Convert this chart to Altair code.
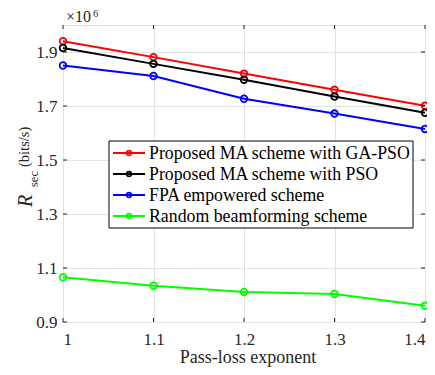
import altair as alt
import pandas as pd

# ---- data (values in units of 10^6 bits/s) ----
x_vals = [1.0, 1.1, 1.2, 1.3, 1.4]
series_names = [
    "Proposed MA scheme with GA-PSO",
    "Proposed MA scheme with PSO",
    "FPA empowered scheme",
    "Random beamforming scheme",
]
ga_pso = [1.940, 1.881, 1.820, 1.760, 1.701]
pso = [1.915, 1.856, 1.797, 1.735, 1.675]
fpa = [1.850, 1.811, 1.727, 1.672, 1.615]
random_bf = [1.066, 1.034, 1.011, 1.004, 0.960]
colors = ["#ff0000", "#000000", "#0000ff", "#00ff00"]

x_ticks = [1.0, 1.1, 1.2, 1.3, 1.4]
y_ticks = [0.9, 1.1, 1.3, 1.5, 1.7, 1.9]

W, H = 362, 297
FONT = "Liberation Serif"
TXT = "#262626"

rows = []
for name, vals in zip(series_names, [ga_pso, pso, fpa, random_bf]):
    for xv, yv in zip(x_vals, vals):
        rows.append({"x": xv, "y": yv, "series": name})
df = pd.DataFrame(rows)

xs = alt.Scale(domain=[1.0, 1.4], nice=False, zero=False)
ys = alt.Scale(domain=[0.9, 2.0], nice=False, zero=False)
color = alt.Color("series:N", scale=alt.Scale(domain=series_names, range=colors), legend=None)

base = alt.Chart(df).encode(
    x=alt.X("x:Q", scale=xs,
            axis=alt.Axis(values=x_ticks, format="~g", title=None,
                          grid=True, gridColor="#e3e3e3", ticks=False, domain=False,
                          labelFont=FONT, labelFontSize=17, labelColor=TXT, labelPadding=9)),
    y=alt.Y("y:Q", scale=ys,
            axis=alt.Axis(values=y_ticks, format=".1f", title=None,
                          grid=True, gridColor="#e3e3e3", ticks=False, domain=False,
                          labelFont=FONT, labelFontSize=17, labelColor=TXT, labelPadding=6)),
    color=color,
)
lines = base.mark_line(strokeWidth=2)
pts = base.mark_point(shape="circle", filled=False, size=44, strokeWidth=1.8, opacity=1)

# inward ticks (box style)
xt = pd.DataFrame({"t": x_ticks})
yt = pd.DataFrame({"t": y_ticks})
tick_style = dict(color=TXT, strokeWidth=1)
xt_bot = alt.Chart(xt).mark_rule(**tick_style).encode(
    x=alt.X("t:Q", scale=xs), y=alt.value(H), y2=alt.value(H - 4))
xt_top = alt.Chart(xt).mark_rule(**tick_style).encode(
    x=alt.X("t:Q", scale=xs), y=alt.value(0), y2=alt.value(4))
yt_left = alt.Chart(yt).mark_rule(**tick_style).encode(
    y=alt.Y("t:Q", scale=ys), x=alt.value(0), x2=alt.value(4))
yt_right = alt.Chart(yt).mark_rule(**tick_style).encode(
    y=alt.Y("t:Q", scale=ys), x=alt.value(W), x2=alt.value(W - 4))

one = pd.DataFrame({"a": [0]})

# legend
leg_layers = [
    alt.Chart(one).mark_rect(fill="white", stroke="#000000", strokeWidth=1).encode(
        x=alt.value(46), x2=alt.value(350), y=alt.value(116), y2=alt.value(203))
]
for i, (name, c) in enumerate(zip(series_names, colors)):
    yy = 128 + 21 * i
    leg_layers.append(alt.Chart(one).mark_rule(color=c, strokeWidth=2).encode(
        x=alt.value(50), x2=alt.value(82), y=alt.value(yy)))
    leg_layers.append(alt.Chart(one).mark_point(shape="circle", filled=False, size=22,
                                                strokeWidth=1.6, color=c, opacity=1).encode(
        x=alt.value(66), y=alt.value(yy)))
    leg_layers.append(alt.Chart(one).mark_text(text=name, font=FONT, fontSize=17.8, color="#000000",
                                               align="left", baseline="alphabetic").encode(
        x=alt.value(86), y=alt.value(yy + 6)))

# axis titles and exponent annotation
annot = [
    alt.Chart(one).mark_text(text="Pass-loss exponent", font=FONT, fontSize=18, color=TXT,
                             align="center", baseline="alphabetic").encode(
        x=alt.value(W / 2 + 4), y=alt.value(H + 41)),
    alt.Chart(one).mark_text(text="R", font=FONT, fontSize=20, fontStyle="italic", color=TXT,
                             angle=270, align="left", baseline="alphabetic").encode(
        x=alt.value(-31), y=alt.value(182)),
    alt.Chart(one).mark_text(text="sec", font=FONT, fontSize=12.5, color=TXT,
                             angle=270, align="left", baseline="alphabetic").encode(
        x=alt.value(-25), y=alt.value(162)),
    alt.Chart(one).mark_text(text="(bits/s)", font=FONT, fontSize=14.5, color=TXT,
                             angle=270, align="left", baseline="alphabetic").encode(
        x=alt.value(-34.5), y=alt.value(142)),
    alt.Chart(one).mark_text(text="×10", font=FONT, fontSize=16, color=TXT,
                             align="left", baseline="alphabetic").encode(
        x=alt.value(3), y=alt.value(-3)),
    alt.Chart(one).mark_text(text="6", font=FONT, fontSize=10.5, color=TXT,
                             align="left", baseline="alphabetic").encode(
        x=alt.value(30), y=alt.value(-8)),
]

chart = alt.layer(
    lines, pts, xt_bot, xt_top, yt_left, yt_right, *leg_layers, *annot
).properties(
    width=W, height=H,
    padding={"left": 55, "top": 17, "right": 2, "bottom": 45},
    autosize=alt.AutoSizeParams(type="none"),
).configure_view(
    stroke=TXT, strokeWidth=1.2
).configure(background="white")

chart.save("out.html", embed_options={"renderer": "svg", "actions": False})
